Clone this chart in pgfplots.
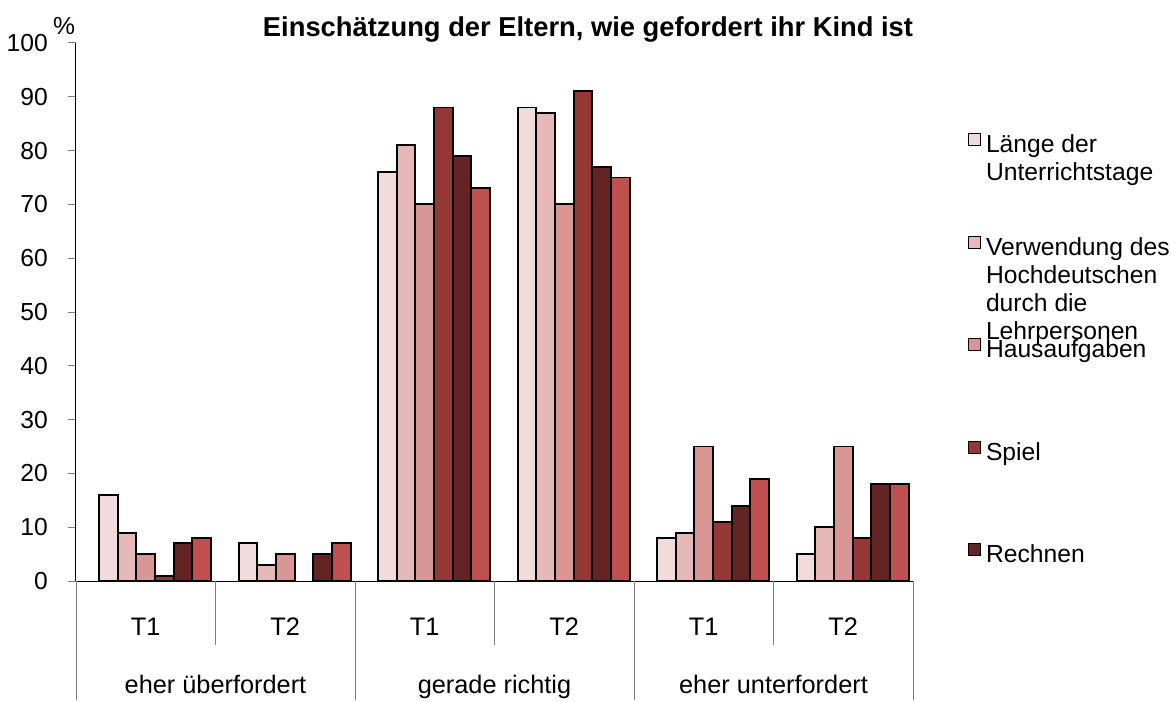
\documentclass[border=0pt]{standalone}
\usepackage{pgfplots}
\pgfplotsset{compat=1.18}
\usepackage{fontspec}
\setmainfont{Liberation Sans}
\definecolor{laenge}{HTML}{F2DCDB}
\definecolor{hochdeutsch}{HTML}{E6B9B8}
\definecolor{haus}{HTML}{D99694}
\definecolor{spiel}{HTML}{953735}
\definecolor{rechnen}{HTML}{632523}
\definecolor{sechs}{HTML}{C0504D}

\begin{document}
\begin{tikzpicture}[x=0.75pt,y=0.75pt,font=\fontsize{18.5}{21}\selectfont]
\path[use as bounding box] (0,0) rectangle (1171,701);

\begin{axis}[
  at={(57pt,90pt)}, anchor=south west,
  width=627.75pt, height=403.5pt, scale only axis,
  xmin=-0.5, xmax=5.5, ymin=0, ymax=100,
  ybar=0pt, bar width=14pt,
  axis x line*=bottom, axis y line*=left,
  axis line style={-, black, line width=0.75pt},
  ytick={0,10,...,100},
  tick align=outside, major tick length=6pt,
  y tick style={gray, line width=0.75pt},
  xtick={0,...,5}, xticklabels={T1,T2,T1,T2,T1,T2},
  x tick style={draw=none},
  xticklabel style={anchor=base, inner sep=0pt, yshift=-34.5pt,
    font=\fontsize{19}{21}\selectfont},
  yticklabel style={anchor=east, inner sep=0pt, xshift=-15pt},
  /pgf/number format/assume math mode=true,
  every axis plot/.append style={draw=black, line width=1.4pt, line join=miter},
  legend cell align=left,
  legend image code/.code={\draw[#1, line width=0.8pt] (0pt,0pt) rectangle (9pt,9pt);},
  legend style={draw=none, fill=none, inner sep=0pt,
    at={(1.0657,0.8327)}, anchor=north west,
    row sep=58.5pt, column sep=3.5pt,
    nodes={inner sep=0pt, text height=14pt, text depth=4pt}},
]
% Länge der Unterrichtstage
\addplot[draw=black, fill=laenge] coordinates {(0,16) (1,7) (2,76) (3,88) (4,8) (5,5)};
\addlegendentry{\parbox[t]{8cm}{Länge der\\Unterrichtstage}}
% Verwendung des Hochdeutschen
\addplot[draw=black, fill=hochdeutsch] coordinates {(0,9) (1,3) (2,81) (3,87) (4,9) (5,10)};
\addlegendentry{\parbox[t]{8cm}{Verwendung des\\Hochdeutschen\\durch die\\Lehrpersonen}}
% Hausaufgaben
\addplot[draw=black, fill=haus] coordinates {(0,5) (1,5) (2,70) (3,70) (4,25) (5,25)};
\addlegendentry{Hausaufgaben}
% Spiel (T2 eher überfordert: kein Wert)
\addplot[draw=black, fill=spiel] coordinates {(0,1) (2,88) (3,91) (4,11) (5,8)};
\addlegendentry{Spiel}
% Rechnen
\addplot[draw=black, fill=rechnen] coordinates {(0,7) (1,5) (2,79) (3,77) (4,14) (5,18)};
\addlegendentry{Rechnen}
% sechste Reihe, nicht in der Legende
\addplot[draw=black, fill=sechs, forget plot] coordinates {(0,8) (1,7) (2,73) (3,75) (4,19) (5,18)};
\end{axis}

% Trennlinien der Kategorien
\foreach \k in {0,2,4,6} \draw[gray, line width=0.75pt] ({76+139.5*\k},120) -- ({76+139.5*\k},1);
\foreach \k in {1,3,5} \draw[gray, line width=0.75pt] ({76+139.5*\k},120) -- ({76+139.5*\k},56);

\begin{scope}[font=\fontsize{19}{21}\selectfont]
\node[anchor=base] at (215.5,8) {eher überfordert};
\node[anchor=base] at (494.5,8) {gerade richtig};
\node[anchor=base] at (773.5,8) {eher unterfordert};
\end{scope}

\node[font=\fontsize{20.5}{23}\selectfont\bfseries] at (588,672) {Einschätzung der Eltern, wie gefordert ihr Kind ist};
\node at (64,675) {\%};
\end{tikzpicture}
\end{document}
